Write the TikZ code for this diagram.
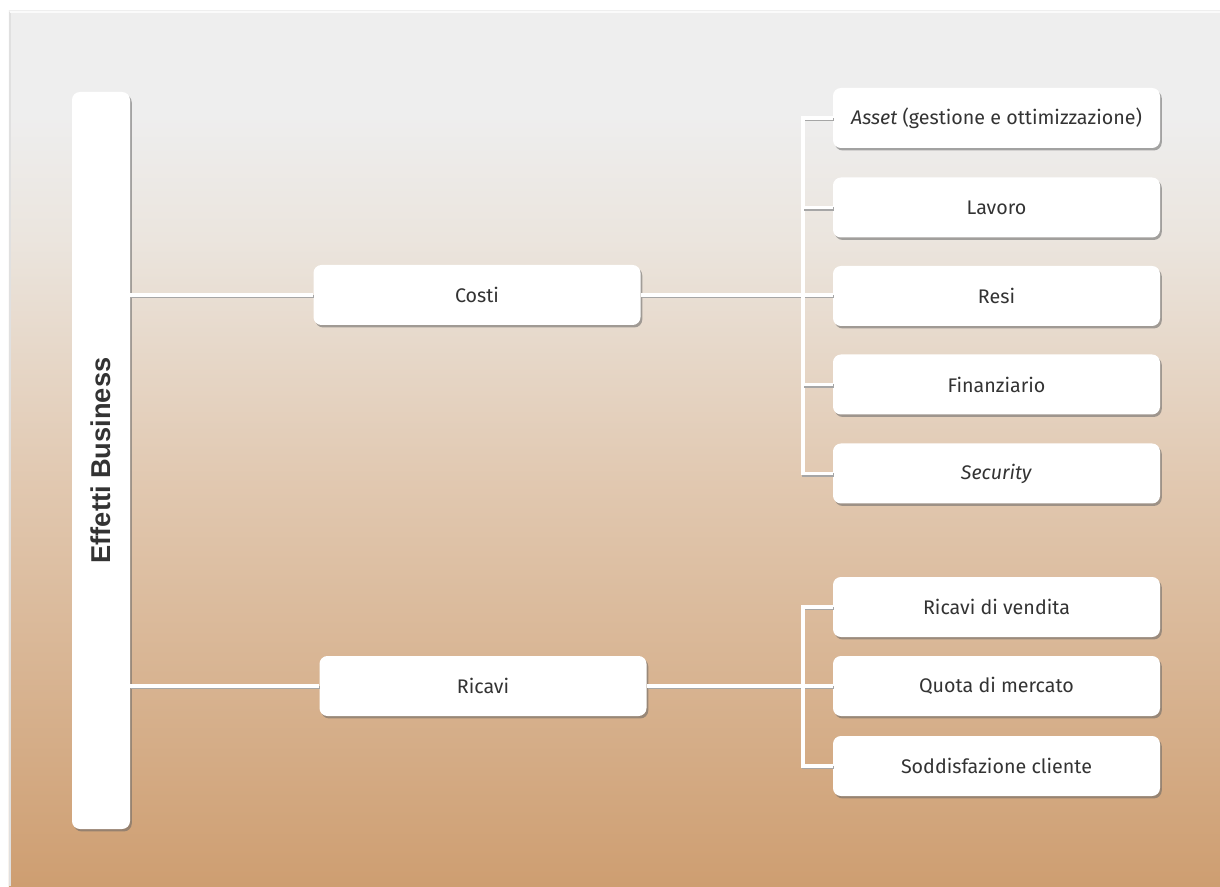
\documentclass[tikz,border=0pt]{standalone}
\usepackage{fontspec}
\setmainfont{Fira Sans}
\newfontfamily\headfont{Liberation Sans}
\usetikzlibrary{positioning,shadows}

\definecolor{paneltop}{RGB}{238,238,238}
\definecolor{panelmid}{RGB}{235,229,222}
\definecolor{paneltan}{RGB}{225,200,176}
\definecolor{panelbot}{RGB}{206,158,113}
\definecolor{boxtext}{RGB}{51,51,51}

% only 25bp..75bp of an axis shading ends up inside the path
\pgfdeclareverticalshading{panelshade}{100bp}{color(0bp)=(panelbot); color(25bp)=(panelbot); color(48bp)=(paneltan); color(62bp)=(panelmid); color(69bp)=(paneltop); color(100bp)=(paneltop)}

\tikzset{
  item/.style={draw=none, fill=white, rounded corners=4.5pt,
    minimum width=6.54cm, minimum height=1.2cm, text=boxtext,
    font=\fontsize{11.2}{13}\selectfont,
    drop shadow={shadow xshift=1pt, shadow yshift=-1.4pt, opacity=0.55, fill=black!60}},
  link/.style={draw=white, line width=1.8pt,
    preaction={draw=black!35, line width=1.8pt, transform canvas={xshift=0.5pt, yshift=-0.9pt}}}
}

\begin{document}
\begin{tikzpicture}

\useasboundingbox (0,0) rectangle (24.4,17.72);
\fill[white] (0,0) rectangle (24.4,17.72);

% background panel
\shade[shading=panelshade] (0.18,0) rectangle (24.4,17.5);
\draw[black!12, line width=1.2pt] (0.2,0) -- (0.2,17.48);
\draw[white!70!paneltop, line width=1.2pt] (0.2,17.48) -- (24.4,17.48);

% main column
\node[item, minimum width=1.16cm, minimum height=14.74cm] (effetti) at (2.02, 8.51) {};
\node[rotate=90, text=boxtext, font=\headfont\bfseries\fontsize{15.5}{18}\selectfont] (effettilabel) at (effetti.center) {Effetti Business};

\node[item] (costi) at (9.54, 11.82) {Costi};
\node[item] (ricavi) at (9.66, 4.0) {Ricavi};

\node[item] (asset) at (19.93, 15.36) {\textit{Asset} (gestione e ottimizzazione)};
\node[item] (lavoro) at (19.93, 13.57) {Lavoro};
\node[item] (resi) at (19.93, 11.8) {Resi};
\node[item] (finanz) at (19.93, 10.03) {Finanziario};
\node[item] (security) at (19.93, 8.25) {\textit{Security}};

\node[item] (vendita) at (19.93, 5.58) {Ricavi di vendita};
\node[item] (quota) at (19.93, 4.0) {Quota di mercato};
\node[item] (cliente) at (19.93, 2.4) {Soddisfazione cliente};

\coordinate (bus) at (16.06, 0);

% Draw connectors
\draw[link] (effetti.east |- costi.west) -- (costi.west);
\draw[link] (effetti.east |- ricavi.west) -- (ricavi.west);

\draw[link] (costi.east) -- (costi.east -| resi.west);
\draw[link] (asset.west) -| (bus |- security.west) -- (security.west);
\draw[link] (lavoro.west) -- (bus |- lavoro.west);
\draw[link] (finanz.west) -- (bus |- finanz.west);

\draw[link] (ricavi.east) -- (ricavi.east -| quota.west);
\draw[link] (vendita.west) -| (bus |- cliente.west) -- (cliente.west);

\end{tikzpicture}
\end{document}
